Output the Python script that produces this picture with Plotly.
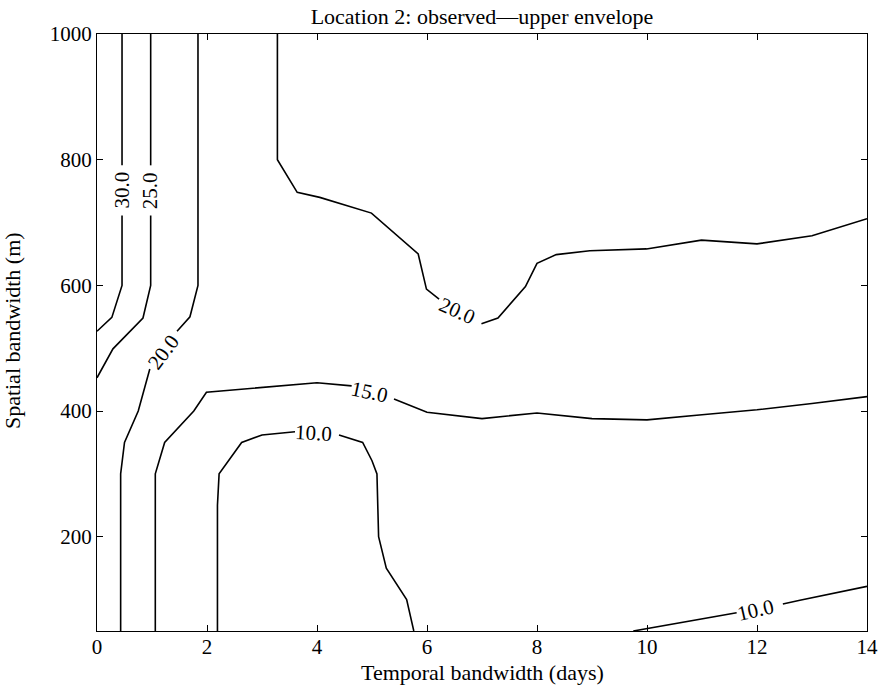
import plotly.graph_objects as go

# Contour paths (temporal bandwidth in days, spatial bandwidth in m).
# None marks the break where the inline level label sits.
c30_x = [0.455, 0.455, None, 0.455, 0.455, 0.27, 0.0]
c30_y = [1000, 791, None, 711, 600, 549, 527]

c25_x = [0.976, 0.976, None, 0.976, 0.976, 0.836, 0.29, 0.0]
c25_y = [1000, 791, None, 711, 600, 548, 499, 453]

c20a_x = [1.836, 1.836, 1.69, 1.455, None, 0.96, 0.75, 0.50, 0.43, 0.43]
c20a_y = [1000, 600, 550, 527, None, 467, 400, 350, 300, 50]

c20b_x = [3.28, 3.28, 3.64, 4.05, 4.99, 5.84, 5.99, 6.22, None,
          6.99, 7.29, 7.79, 8.0, 8.35, 8.96, 9.99, 10.99, 12.0, 13.0, 14.0]
c20b_y = [1000, 800, 748, 740, 715, 650, 594, 578, None,
          539, 548, 598, 635, 649, 655, 658, 672, 666, 679, 706]

c15_x = [1.06, 1.06, 1.23, 1.76, 1.99, 4.0, 4.63, None,
         5.4, 6.0, 7.0, 8.0, 9.0, 10.0, 11.0, 12.0, 13.0, 14.0]
c15_y = [50, 300, 350, 400, 430, 445, 440, None,
         419, 398, 388, 397, 388, 386, 394, 402, 412, 423]

c10a_x = [2.19, 2.19, 2.22, 2.63, 3.0, 3.6, None,
          4.4, 4.83, 5.0, 5.09, 5.12, 5.26, 5.63, 5.76]
c10a_y = [50, 250, 300, 350, 362, 367, None,
          362, 350, 321, 300, 200, 150, 100, 50]

c10b_x = [9.75, 11.63, None, 12.47, 12.78, 14.0]
c10b_y = [50, 79, None, 93, 99, 121]

# Inline level labels: text, position, rotation (degrees, clockwise)
label_text = ["30.0", "25.0", "20.0", "20.0", "15.0", "10.0", "10.0"]
label_x = [0.455, 0.976, 1.21, 6.56, 4.96, 3.93, 11.98]
label_y = [751, 751, 494, 560, 430, 365, 84]
label_angle = [-90, -90, -53, 24, 12, 3, -13]

x_ticks = [0, 2, 4, 6, 8, 10, 12, 14]
y_ticks = [200, 400, 600, 800, 1000]

FONT = "Liberation Serif"

fig = go.Figure()
paths = [(c30_x, c30_y), (c25_x, c25_y), (c20a_x, c20a_y), (c20b_x, c20b_y),
         (c15_x, c15_y), (c10a_x, c10a_y), (c10b_x, c10b_y)]
for px, py in paths:
    fig.add_trace(go.Scatter(x=px, y=py, mode="lines",
                             line=dict(color="black", width=1.6),
                             connectgaps=False, showlegend=False,
                             hoverinfo="skip"))

for t, lx, ly, ang in zip(label_text, label_x, label_y, label_angle):
    fig.add_annotation(x=lx, y=ly, xref="x", yref="y", text=t,
                       showarrow=False, textangle=ang,
                       xanchor="center", yanchor="middle",
                       font=dict(family=FONT, size=21, color="black"))

# Axis titles placed relative to the plotting area
fig.add_annotation(x=0.5, y=-0.069, xref="paper", yref="paper",
                   text="Temporal bandwidth (days)", showarrow=False,
                   xanchor="center", yanchor="middle",
                   font=dict(family=FONT, size=22, color="black"))
fig.add_annotation(x=-0.1104, y=0.504, xref="paper", yref="paper",
                   text="Spatial bandwidth (m)", showarrow=False,
                   textangle=-90, xanchor="center", yanchor="middle",
                   font=dict(family=FONT, size=22, color="black"))

axis_common = dict(showline=True, linecolor="black", linewidth=1.3,
                   mirror="ticks", ticks="inside", ticklen=6, tickwidth=1,
                   tickcolor="black", showgrid=False, zeroline=False,
                   automargin=False,
                   tickfont=dict(family=FONT, size=21, color="black"))

fig.update_xaxes(range=[0, 14], tickvals=x_ticks,
                 ticktext=[str(v) for v in x_ticks],
                 ticklabelstandoff=-3, **axis_common)
fig.update_yaxes(range=[50, 1000], tickvals=y_ticks,
                 ticktext=[str(v) for v in y_ticks], **axis_common)

fig.update_layout(
    width=884, height=691,
    margin=dict(l=97, r=17, t=34, b=60),
    paper_bgcolor="white", plot_bgcolor="white",
    title=dict(text="Location 2: observed\u2014upper envelope",
               x=0.5, xref="paper", xanchor="center",
               y=1 - 16 / 691, yref="container", yanchor="middle",
               font=dict(family=FONT, size=22, color="black")),
)

fig.write_html("out.html")
